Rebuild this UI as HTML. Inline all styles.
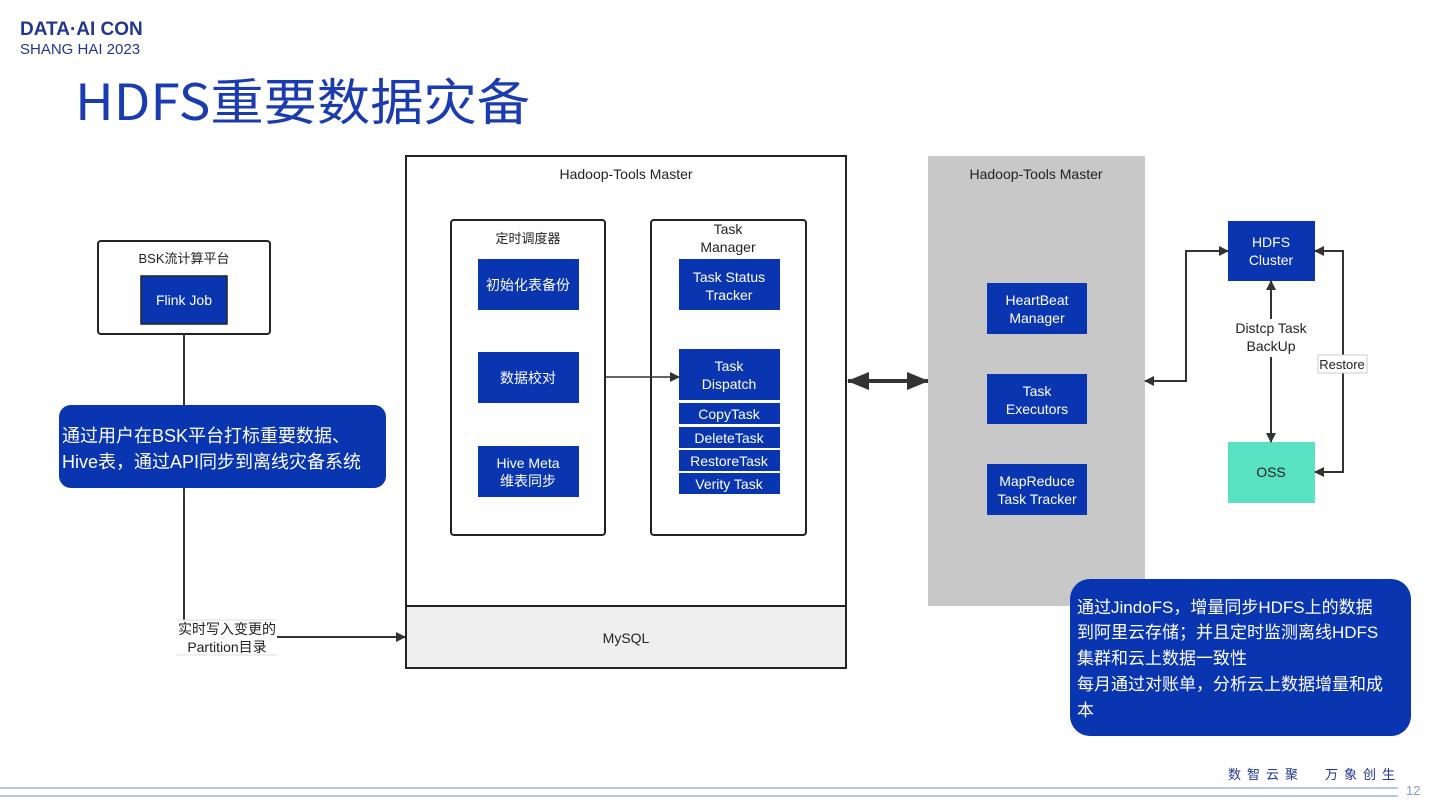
<!DOCTYPE html>
<html><head><meta charset="utf-8"><style>
html,body{margin:0;padding:0;background:#fff;}
body{width:1440px;height:810px;overflow:hidden;position:relative;font-family:"Liberation Sans","Noto Sans CJK SC",sans-serif;}
svg{position:absolute;left:0;top:0;}
text{font-family:"Liberation Sans","Noto Sans CJK SC",sans-serif;}
</style></head><body>
<svg width="1440" height="810" viewBox="0 0 1440 810">
<defs>
<marker id="ah" markerWidth="10" markerHeight="10" refX="9" refY="5" orient="auto" markerUnits="userSpaceOnUse"><path d="M0,0 L10,5 L0,10 z" fill="#333"/></marker>
<marker id="ahs" markerWidth="10" markerHeight="10" refX="1" refY="5" orient="auto" markerUnits="userSpaceOnUse"><path d="M10,0 L0,5 L10,10 z" fill="#333"/></marker>
<marker id="bh" markerWidth="22" markerHeight="18" refX="21" refY="9" orient="auto" markerUnits="userSpaceOnUse"><path d="M0,0 L22,9 L0,18 z" fill="#333"/></marker>
<marker id="bhs" markerWidth="22" markerHeight="18" refX="1" refY="9" orient="auto" markerUnits="userSpaceOnUse"><path d="M22,0 L0,9 L22,18 z" fill="#333"/></marker>
</defs>
<!-- header -->
<text x="20" y="35" font-size="19" font-weight="bold" fill="#23378f">DATA·AI CON</text>
<text x="20" y="54" font-size="15" fill="#23378f">SHANG HAI 2023</text>
<text x="75" y="120" font-size="50" fill="#1a3cb0" textLength="455" lengthAdjust="spacingAndGlyphs" style="font-family:'Noto Sans CJK SC',sans-serif">HDFS重要数据灾备</text>

<!-- BSK -->
<rect x="98" y="241" width="172" height="93" rx="3" fill="#fff" stroke="#222" stroke-width="2"/>
<text x="184" y="263" font-size="13" text-anchor="middle" fill="#222">BSK流计算平台</text>
<rect x="141" y="276" width="86" height="48" fill="#0a35b0" stroke="#222" stroke-width="1.5"/>
<text x="184" y="305" font-size="14" text-anchor="middle" fill="#fff">Flink Job</text>
<polyline points="184,334 184,637 405,637" fill="none" stroke="#333" stroke-width="2" marker-end="url(#ah)"/>
<rect x="177" y="620" width="100" height="36" fill="#fff"/>
<line x1="177" y1="620" x2="277" y2="620" stroke="#ddd"/>
<line x1="177" y1="655" x2="277" y2="655" stroke="#ddd"/>
<text x="227" y="634" font-size="14" text-anchor="middle" fill="#222">实时写入变更的</text>
<text x="227" y="652" font-size="14" text-anchor="middle" fill="#222">Partition目录</text>

<rect x="59" y="405" width="327" height="83" rx="12" fill="#0a35b0"/>
<text x="62" y="442" font-size="18" fill="#fff">通过用户在BSK平台打标重要数据、</text>
<text x="62" y="468" font-size="18" fill="#fff">Hive表，通过API同步到离线灾备系统</text>

<!-- master -->
<rect x="406" y="156" width="440" height="512" fill="#fff" stroke="#222" stroke-width="2"/>
<rect x="406" y="606" width="440" height="62" fill="#efefef" stroke="#222" stroke-width="2"/>
<text x="626" y="179" font-size="14" text-anchor="middle" fill="#222">Hadoop-Tools Master</text>
<text x="626" y="643" font-size="14" text-anchor="middle" fill="#222">MySQL</text>

<rect x="451" y="220" width="154" height="315" rx="3" fill="#fff" stroke="#222" stroke-width="2"/>
<text x="528" y="243" font-size="13" text-anchor="middle" fill="#222">定时调度器</text>
<rect x="478" y="259" width="101" height="51" fill="#0a35b0"/>
<text x="528" y="290" font-size="14" text-anchor="middle" fill="#fff">初始化表备份</text>
<rect x="478" y="352" width="101" height="51" fill="#0a35b0"/>
<text x="528" y="383" font-size="14" text-anchor="middle" fill="#fff">数据校对</text>
<rect x="478" y="446" width="101" height="51" fill="#0a35b0"/>
<text x="528" y="468" font-size="14" text-anchor="middle" fill="#fff">Hive Meta</text>
<text x="528" y="486" font-size="14" text-anchor="middle" fill="#fff">维表同步</text>

<rect x="651" y="220" width="155" height="315" rx="3" fill="#fff" stroke="#222" stroke-width="2"/>
<text x="728" y="234" font-size="14" text-anchor="middle" fill="#222">Task</text>
<text x="728" y="252" font-size="14" text-anchor="middle" fill="#222">Manager</text>
<rect x="679" y="259" width="101" height="51" fill="#0a35b0"/>
<text x="729" y="282" font-size="14" text-anchor="middle" fill="#fff">Task Status</text>
<text x="729" y="300" font-size="14" text-anchor="middle" fill="#fff">Tracker</text>
<rect x="679" y="349" width="101" height="51" fill="#0a35b0"/>
<text x="729" y="371" font-size="14" text-anchor="middle" fill="#fff">Task</text>
<text x="729" y="389" font-size="14" text-anchor="middle" fill="#fff">Dispatch</text>
<rect x="679" y="403" width="101" height="21" fill="#0a35b0"/>
<text x="729" y="419" font-size="14" text-anchor="middle" fill="#fff">CopyTask</text>
<rect x="679" y="427" width="101" height="21" fill="#0a35b0"/>
<text x="729" y="443" font-size="14" text-anchor="middle" fill="#fff">DeleteTask</text>
<rect x="679" y="450" width="101" height="21" fill="#0a35b0"/>
<text x="729" y="466" font-size="14" text-anchor="middle" fill="#fff">RestoreTask</text>
<rect x="679" y="473" width="101" height="21" fill="#0a35b0"/>
<text x="729" y="489" font-size="14" text-anchor="middle" fill="#fff">Verity Task</text>
<line x1="605" y1="377" x2="679" y2="377" stroke="#333" stroke-width="1.5" marker-end="url(#ah)"/>

<line x1="848" y1="381" x2="928" y2="381" stroke="#333" stroke-width="4" marker-start="url(#bhs)" marker-end="url(#bh)"/>

<!-- gray master -->
<rect x="928" y="156" width="217" height="450" fill="#c8c8c8"/>
<text x="1036" y="179" font-size="14" text-anchor="middle" fill="#222">Hadoop-Tools Master</text>
<rect x="987" y="283" width="100" height="51" fill="#0a35b0"/>
<text x="1037" y="305" font-size="14" text-anchor="middle" fill="#fff">HeartBeat</text>
<text x="1037" y="323" font-size="14" text-anchor="middle" fill="#fff">Manager</text>
<rect x="987" y="374" width="100" height="50" fill="#0a35b0"/>
<text x="1037" y="396" font-size="14" text-anchor="middle" fill="#fff">Task</text>
<text x="1037" y="414" font-size="14" text-anchor="middle" fill="#fff">Executors</text>
<rect x="987" y="464" width="100" height="51" fill="#0a35b0"/>
<text x="1037" y="486" font-size="14" text-anchor="middle" fill="#fff">MapReduce</text>
<text x="1037" y="504" font-size="14" text-anchor="middle" fill="#fff">Task Tracker</text>

<!-- right -->
<rect x="1228" y="221" width="87" height="60" fill="#0a35b0"/>
<text x="1271" y="247" font-size="14" text-anchor="middle" fill="#fff">HDFS</text>
<text x="1271" y="265" font-size="14" text-anchor="middle" fill="#fff">Cluster</text>
<rect x="1228" y="442" width="87" height="61" fill="#58e2c2"/>
<text x="1271" y="477" font-size="14" text-anchor="middle" fill="#222">OSS</text>
<polyline points="1145,381 1186,381 1186,251 1228,251" fill="none" stroke="#333" stroke-width="2" marker-start="url(#ahs)" marker-end="url(#ah)"/>
<line x1="1271" y1="281" x2="1271" y2="442" stroke="#333" stroke-width="2" marker-start="url(#ahs)" marker-end="url(#ah)"/>
<rect x="1232" y="319" width="80" height="38" fill="#fff"/>
<text x="1271" y="333" font-size="14" text-anchor="middle" fill="#222">Distcp Task</text>
<text x="1271" y="351" font-size="14" text-anchor="middle" fill="#222">BackUp</text>
<polyline points="1315,251 1343,251 1343,472 1315,472" fill="none" stroke="#333" stroke-width="2" marker-start="url(#ahs)" marker-end="url(#ah)"/>
<rect x="1318" y="355" width="49" height="18" fill="#fff" stroke="#ccc"/>
<text x="1342" y="369" font-size="13" text-anchor="middle" fill="#222">Restore</text>

<rect x="1070" y="579" width="341" height="157" rx="20" fill="#0a35b0"/>
<text x="1077" y="613" font-size="17" fill="#fff">通过JindoFS，增量同步HDFS上的数据</text>
<text x="1077" y="638" font-size="17" fill="#fff">到阿里云存储；并且定时监测离线HDFS</text>
<text x="1077" y="664" font-size="17" fill="#fff">集群和云上数据一致性</text>
<text x="1077" y="690" font-size="17" fill="#fff">每月通过对账单，分析云上数据增量和成</text>
<text x="1077" y="716" font-size="17" fill="#fff">本</text>

<!-- footer -->
<text x="1228" y="779" font-size="13" fill="#23378f" letter-spacing="6">数智云聚</text>
<text x="1325" y="779" font-size="13" fill="#23378f" letter-spacing="6">万象创生</text>
<line x1="0" y1="788" x2="1398" y2="788" stroke="#7a8fa8" stroke-width="1"/>
<line x1="0" y1="796" x2="1398" y2="796" stroke="#7a8fa8" stroke-width="1"/>
<text x="1406" y="795" font-size="13" fill="#8a9bc8">12</text>
</svg>
</body></html>
